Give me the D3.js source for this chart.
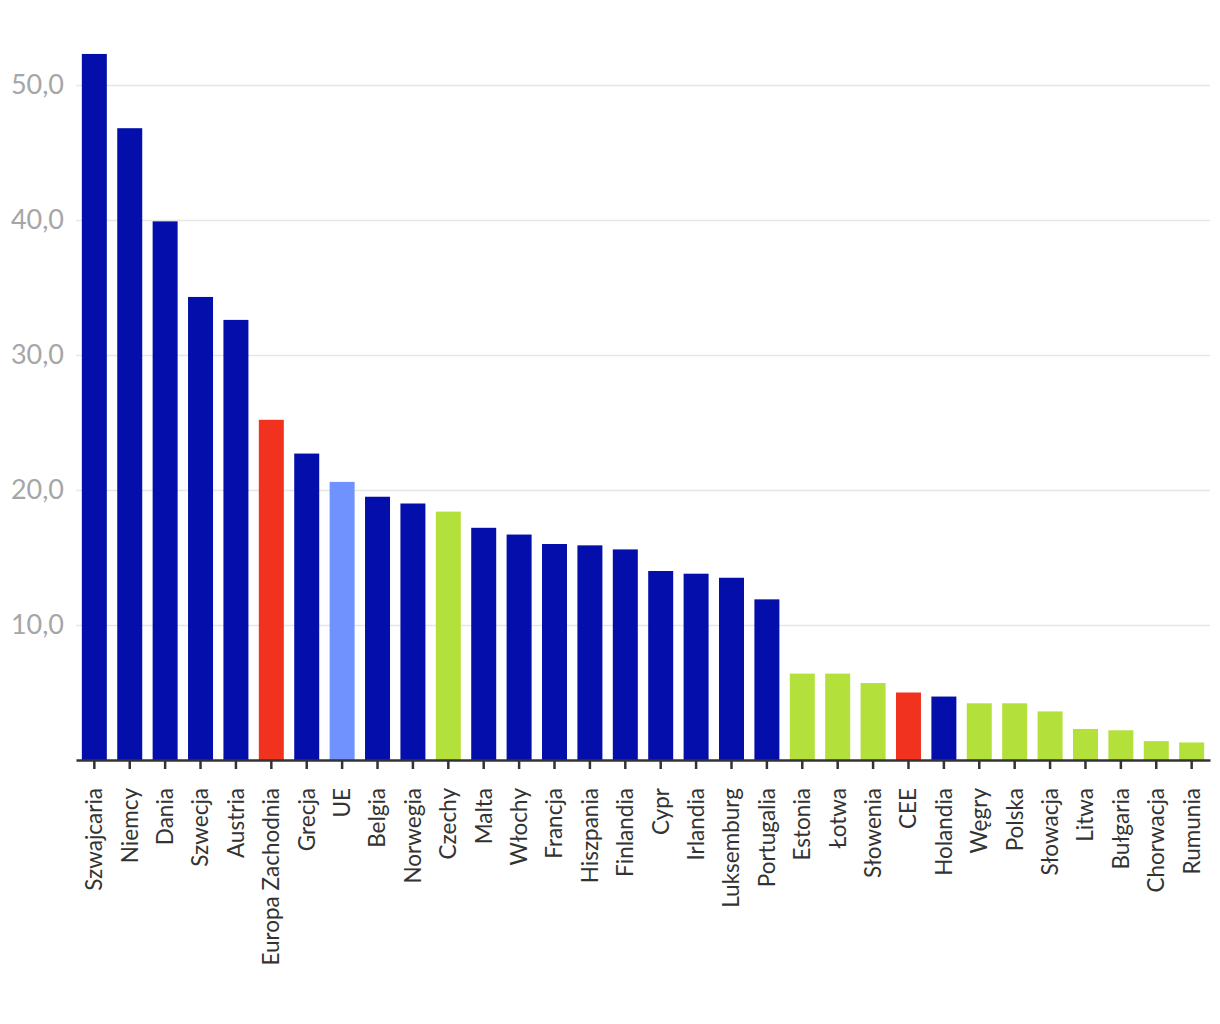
<!DOCTYPE html>
<html>
<head>
<meta charset="utf-8">
<script src="https://cdn.jsdelivr.net/npm/d3@7"></script>
<style>
  body { margin: 0; background: #fff; }
  svg text { font-family: Lato, "DejaVu Sans", sans-serif; }
</style>
</head>
<body>
<div id="chart"></div>
<script>
// Data
var countries = ["Szwajcaria", "Niemcy", "Dania", "Szwecja", "Austria", "Europa Zachodnia",
    "Grecja", "UE", "Belgia", "Norwegia", "Czechy", "Malta", "Włochy", "Francja", "Hiszpania",
    "Finlandia", "Cypr", "Irlandia", "Luksemburg", "Portugalia", "Estonia", "Łotwa", "Słowenia",
    "CEE", "Holandia", "Węgry", "Polska", "Słowacja", "Litwa", "Bułgaria", "Chorwacja", "Rumunia"];
var values = [52.3, 46.8, 39.9, 34.3, 32.6, 25.2, 22.7, 20.6, 19.5, 19.0, 18.4, 17.2, 16.7, 16.0,
    15.9, 15.6, 14.0, 13.8, 13.5, 11.9, 6.4, 6.4, 5.7, 5.0, 4.7, 4.2, 4.2, 3.6, 2.3, 2.2, 1.4, 1.3];
// group: w = west, a = aggregate, u = EU, c = CEE country
var groups = ["w", "w", "w", "w", "w", "a", "w", "u", "w", "w", "c", "w", "w", "w", "w",
    "w", "w", "w", "w", "w", "c", "c", "c", "a", "w", "c", "c", "c", "c", "c", "c", "c"];
var yTicks = [10, 20, 30, 40, 50];

var colors = { w: "#040fab", a: "#f0321e", u: "#7092ff", c: "#b3e03a" };

var width = 1220, height = 1024;
var left = 76, right = 1210, bottom = 760;

var svg = d3.select("#chart").append("svg")
    .attr("width", width)
    .attr("height", height);

var x = d3.scaleBand()
    .domain(countries)
    .range([left, right])
    .paddingInner(0.294)
    .paddingOuter(0.165);

var y = d3.scaleLinear()
    .domain([0, 50])
    .range([bottom, 85]);

// gridlines + y labels
var yAxis = svg.append("g")
    .attr("transform", "translate(" + left + ",0)")
    .call(d3.axisLeft(y)
        .tickValues(yTicks)
        .tickSize(-(right - left))
        .tickPadding(12)
        .tickFormat(function(d) { return d3.format(".1f")(d).replace(".", ","); }));
yAxis.select(".domain").remove();
yAxis.selectAll("line").attr("stroke", "#e6e6e6").attr("stroke-width", 1.5);
yAxis.selectAll("text")
    .attr("fill", "#a6a6a6")
    .style("font-size", "27px");

// bars
svg.selectAll(".bar")
    .data(countries)
  .enter().append("rect")
    .attr("class", "bar")
    .attr("x", function(d) { return x(d); })
    .attr("width", x.bandwidth())
    .attr("y", function(d, i) { return y(values[i]); })
    .attr("height", function(d, i) { return bottom - y(values[i]); })
    .attr("fill", function(d, i) { return colors[groups[i]]; });

// x axis
var xAxis = svg.append("g")
    .attr("transform", "translate(0," + bottom + ")")
    .call(d3.axisBottom(x).tickSize(9).tickSizeOuter(0).tickPadding(10));
xAxis.select(".domain")
    .attr("stroke", "#333")
    .attr("stroke-width", 2.5);
xAxis.selectAll("line").attr("stroke", "#333").attr("stroke-width", 2.5);
xAxis.selectAll("text")
    .attr("fill", "#333")
    .style("font-size", "22.5px")
    .attr("text-anchor", "end")
    .attr("transform", "rotate(-90)")
    .attr("x", -28)
    .attr("y", 0)
    .attr("dy", "0.35em");
</script>
</body>
</html>
